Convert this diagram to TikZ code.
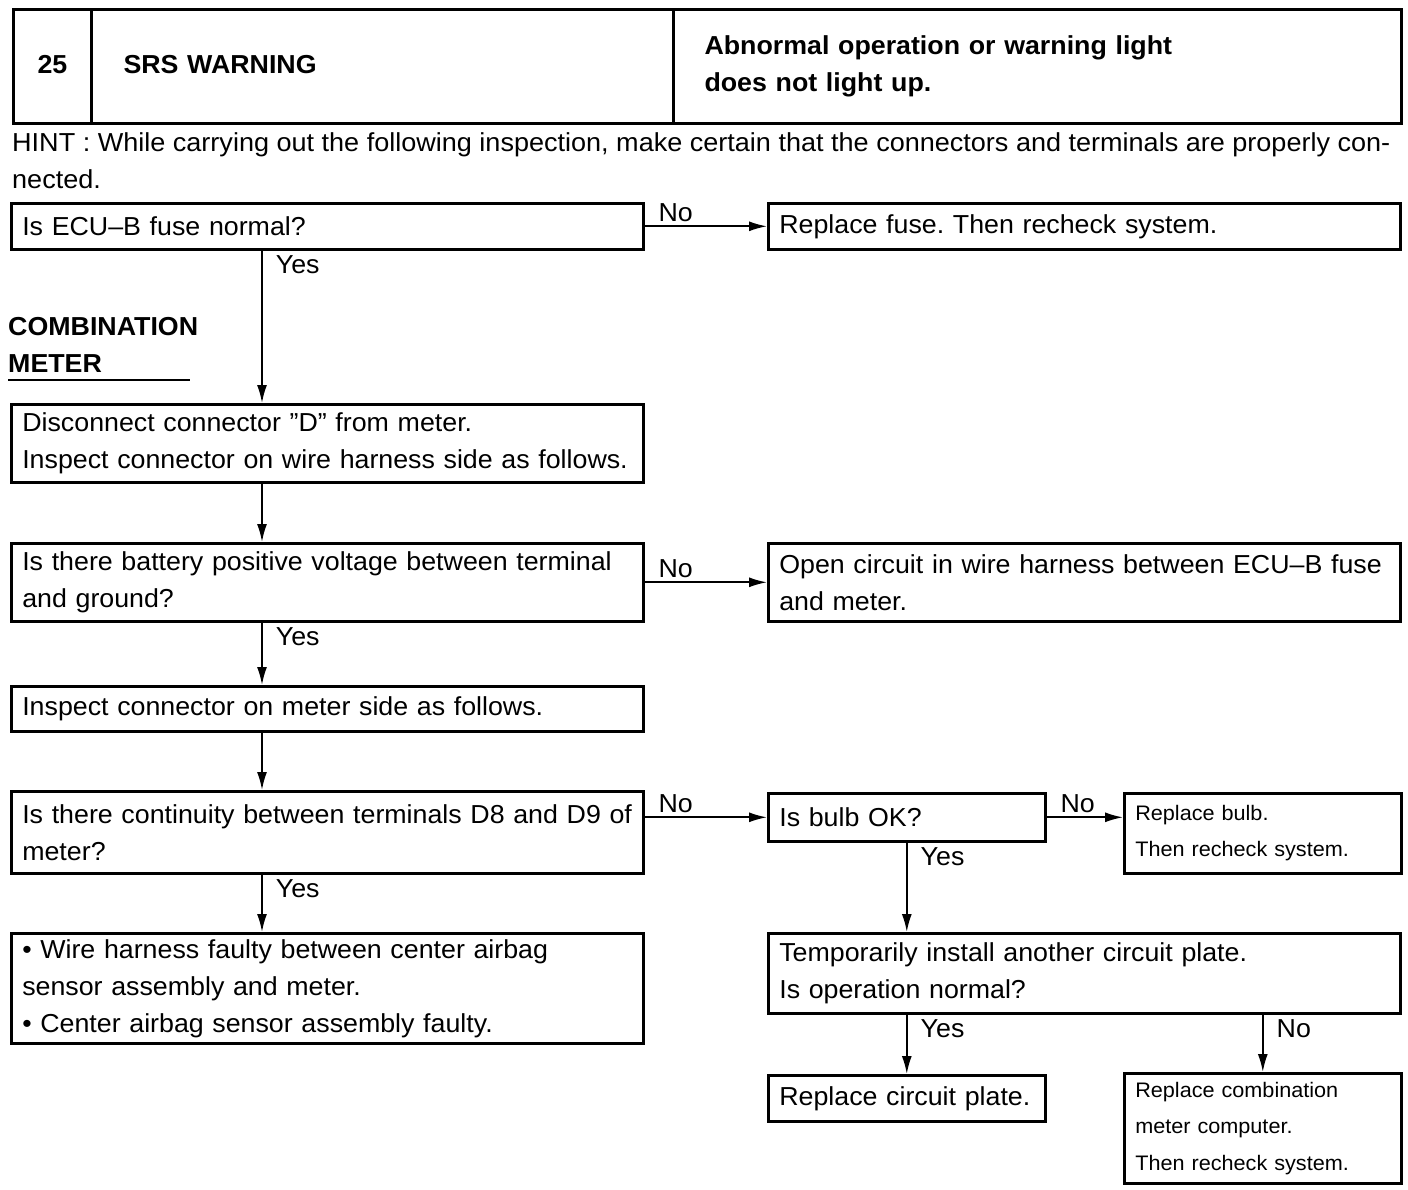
\documentclass[tikz,border=0pt]{standalone}
\usepackage{fontspec}
\setmainfont{Liberation Sans}[FakeStretch=1.03, WordSpace=0.8]
\newfontfamily\hintfont{Liberation Sans}[FakeStretch=1.04]
\usetikzlibrary{arrows.meta}
\frenchspacing
\newcommand{\maintext}{\fontsize{26}{37}\selectfont}
\newcommand{\smalltext}{\fontsize{21}{36.5}\selectfont}
\tikzset{
  cell/.style={draw, line width=3pt, anchor=north west, minimum height=114pt,
    inner ysep=0pt, font=\maintext\bfseries},
  box/.style={draw, line width=2.6pt, anchor=north west, inner xsep=11pt,
    inner ysep=0pt, align=left, font=\maintext},
  wbox/.style={box, text width=610pt},
  nbox/.style={box, text width=255pt},
  sbox/.style={box, text width=255pt, font=\smalltext},
  arr/.style={line width=1.8pt, -{Latex[length=18pt,width=10pt]}},
  lbl/.style={font=\maintext, inner xsep=13pt, inner ysep=4pt}
}
\begin{document}
\begin{tikzpicture}[x=1pt,y=-1pt]
\useasboundingbox (0,0) rectangle (1408,1190);

% title block
\node[cell, minimum width=78pt] (num) at (12,8) {\raisebox{5pt}{25}};
\node[cell, inner xsep=32pt, text width=518pt, align=left] (title) at (90,8) {\raisebox{5pt}{SRS WARNING}};
\node[cell, inner xsep=31pt, text width=666pt, align=left] (cond) at (672,8)
  {Abnormal operation or warning light\\does not light up.};

\node[font=\maintext\hintfont, anchor=north west, inner sep=0pt, align=left] (hint) at (12,132)
  {HINT : While carrying out the following inspection, make certain that the connectors and terminals are properly con-\\nected.};

\node[font=\maintext\bfseries, anchor=north west, inner sep=0pt, align=left] (cmb) at (8,317)
  {COMBINATION\\METER};
\draw[line width=2pt] (8,380) -- (190,380);

% boxes
\node[wbox, minimum height=46pt] (fuse) at (10,202) {Is ECU–B fuse normal?};
\node[wbox, minimum height=46pt] (repfuse) at (767,202) {Replace fuse. Then recheck system.};
\node[wbox, minimum height=78pt] (disc) at (10,403)
  {Disconnect connector ”D” from meter.\\Inspect connector on wire harness side as follows.};
\node[wbox, minimum height=78pt] (volt) at (10,542)
  {Is there battery positive voltage between terminal\\and ground?};
\node[wbox, minimum height=78pt] (open) at (767,542)
  {Open circuit in wire harness between ECU–B fuse\\and meter.};
\node[wbox, minimum height=45pt] (insp) at (10,685) {Inspect connector on meter side as follows.};
\node[wbox, minimum height=82pt] (cont) at (10,790)
  {Is there continuity between terminals D8 and D9 of\\meter?};
\node[nbox, minimum height=48pt] (bulb) at (767,792) {Is bulb OK?};
\node[sbox, minimum height=80pt] (repbulb) at (1123,792) {Replace bulb.\\Then recheck system.};
\node[wbox, minimum height=80pt] (temp) at (767,932)
  {Temporarily install another circuit plate.\\Is operation normal?};
\node[wbox, minimum height=110pt] (fault) at (10,932)
  {• Wire harness faulty between center airbag\\sensor assembly and meter.\\• Center airbag sensor assembly faulty.};
\node[nbox, minimum height=46pt] (plate) at (767,1074) {Replace circuit plate.};
\node[sbox, minimum height=110pt] (repmeter) at (1123,1072)
  {Replace combination\\meter computer.\\Then recheck system.};

% connectors
\coordinate (spine) at (262,0);
\draw[arr] (fuse.east) -- (repfuse.west) node[lbl, pos=0, above right] {No};
\draw[arr] (fuse.south -| spine) -- (disc.north -| spine) node[lbl, pos=0, below right] {Yes};
\draw[arr] (disc.south -| spine) -- (volt.north -| spine);
\draw[arr] (volt.east) -- (open.west) node[lbl, pos=0, above right] {No};
\draw[arr] (volt.south -| spine) -- (insp.north -| spine) node[lbl, pos=0, below right] {Yes};
\draw[arr] (insp.south -| spine) -- (cont.north -| spine);
\draw[arr] (bulb.west -| cont.east) -- (bulb.west) node[lbl, pos=0, above right] {No};
\draw[arr] (cont.south -| spine) -- (fault.north -| spine) node[lbl, pos=0, below right] {Yes};
\draw[arr] (bulb.east) -- (bulb.east -| repbulb.west) node[lbl, pos=0, above right] {No};
\draw[arr] (bulb.south) -- (temp.north -| bulb.south) node[lbl, pos=0, below right] {Yes};
\draw[arr] (temp.south -| plate.north) -- (plate.north) node[lbl, pos=0, below right] {Yes};
\draw[arr] (temp.south -| repmeter.north) -- (repmeter.north) node[lbl, pos=0, below right] {No};
\end{tikzpicture}
\end{document}
